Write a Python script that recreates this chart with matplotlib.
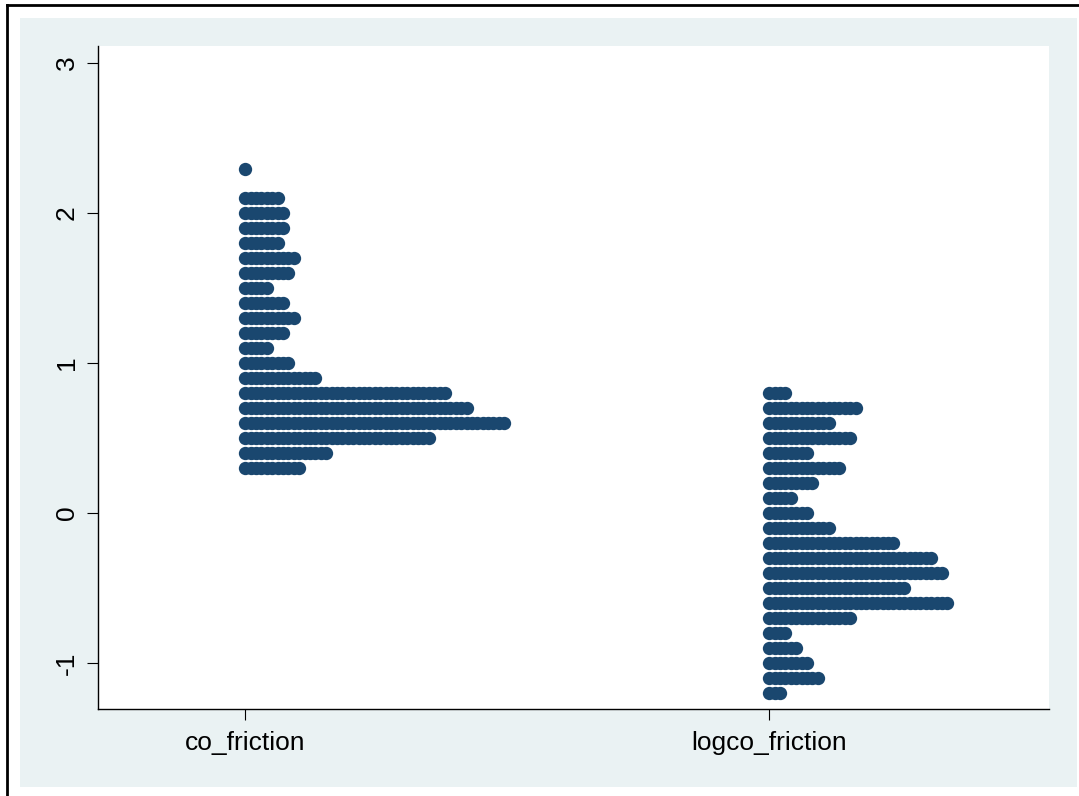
import matplotlib
matplotlib.use("Agg")
import matplotlib.pyplot as plt
import numpy as np
from matplotlib.patches import Rectangle
from matplotlib.lines import Line2D

plt.rcParams['font.family'] = ['Liberation Sans', 'DejaVu Sans']
plt.rcParams['axes.unicode_minus'] = False

# categories (x positions 1, 2)
categories = ['co_friction', 'logco_friction']

# co_friction: bin value and number of observations in each bin
co_values = [2.29, 2.1, 2.0, 1.9, 1.8, 1.7, 1.6, 1.5, 1.4, 1.3, 1.2, 1.1, 1.0,
             0.9, 0.8, 0.7, 0.6, 0.5, 0.4, 0.3]
co_counts = [1, 7, 8, 8, 7, 10, 9, 5, 8, 10, 8, 5, 9,
             14, 38, 42, 49, 35, 16, 11]

# logco_friction
log_values = [0.8, 0.7, 0.6, 0.5, 0.4, 0.3, 0.2, 0.1, 0.0, -0.1, -0.2, -0.3,
              -0.4, -0.5, -0.6, -0.7, -0.8, -0.9, -1.0, -1.1, -1.2]
log_counts = [4, 17, 12, 16, 8, 14, 9, 5, 8, 12, 24, 31,
              33, 26, 34, 16, 4, 6, 8, 10, 3]

y_ticks = [-1, 0, 1, 2, 3]

navy = '#1a476f'
W, H = 1079, 796
fig = plt.figure(figsize=(W / 100, H / 100), dpi=100, facecolor='white')

# stata-style light background panel and frame lines
fig.patches.append(Rectangle((20 / W, 1 - 787 / H), 1057 / W, 769 / H,
                             transform=fig.transFigure, facecolor='#eaf2f3',
                             edgecolor='none', zorder=-10))
fig.lines.append(Line2D([7 / W, 7 / W], [0, 1 - 5 / H], transform=fig.transFigure,
                        color='black', lw=2, zorder=-10))
fig.lines.append(Line2D([7 / W, 1], [1 - 5 / H, 1 - 5 / H], transform=fig.transFigure,
                        color='black', lw=2, zorder=-10))

ax = fig.add_axes([98 / W, 1 - 709 / H, 951 / W, 663 / H])
ax.set_facecolor('white')

step = 0.0103  # horizontal spacing between stacked dots
for pos, vals, cnts in [(1, co_values, co_counts), (2, log_values, log_counts)]:
    xs, ys = [], []
    for v, c in zip(vals, cnts):
        for i in range(c):
            xs.append(pos + i * step)
            ys.append(v)
    ax.scatter(xs, ys, s=92, color=navy, linewidth=0, zorder=3)

ax.set_xlim(0.719, 2.534)
ax.set_ylim(-1.307, 3.113)
ax.set_xticks([1, 2])
ax.set_xticklabels(categories)
ax.set_yticks(y_ticks)
ax.set_yticklabels([str(t) for t in y_ticks], rotation=90, va='center')

for s in ['top', 'right']:
    ax.spines[s].set_visible(False)
for s in ['left', 'bottom']:
    ax.spines[s].set_linewidth(1)
    ax.spines[s].set_color('black')

ax.tick_params(axis='both', length=8, width=0.8, labelsize=19, colors='black')
ax.tick_params(axis='x', pad=8)
ax.tick_params(axis='y', pad=6)

fig.savefig('out.png', dpi=100, facecolor='white')
